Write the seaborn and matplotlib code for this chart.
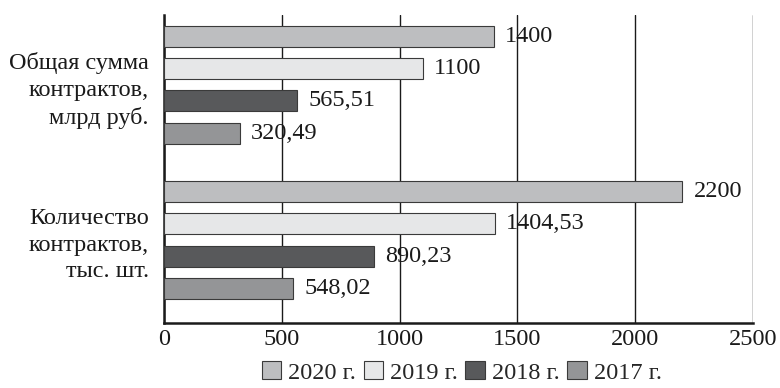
import matplotlib
matplotlib.use("Agg")
import matplotlib.pyplot as plt
import seaborn as sns
import pandas as pd

categories = ["Общая сумма\nконтрактов,\nмлрд руб.", "Количество\nконтрактов,\nтыс. шт."]
years = ["2020 г.", "2019 г.", "2018 г.", "2017 г."]
values_2020 = [1400, 2200]
values_2019 = [1100, 1404.53]
values_2018 = [565.51, 890.23]
values_2017 = [320.49, 548.02]
label_2020 = ["1400", "2200"]
label_2019 = ["1100", "1404,53"]
label_2018 = ["565,51", "890,23"]
label_2017 = ["320,49", "548,02"]
colors = ["#bdbec0", "#e6e7e8", "#58595b", "#939598"]
x_ticks = [0, 500, 1000, 1500, 2000, 2500]

rows = []
for yr, vals in zip(years, [values_2020, values_2019, values_2018, values_2017]):
    for c, v in zip(categories, vals):
        rows.append({"cat": c, "year": yr, "value": v})
df = pd.DataFrame(rows)

sns.set_theme(style="white")
plt.rcParams["font.family"] = ["Liberation Serif", "DejaVu Serif"]

FS = 17.5
fig = plt.figure(figsize=(7.8, 3.88), dpi=100)
ax = fig.add_axes([164/780, 1-323/388, (753-164)/780, (323-15)/388])
sns.barplot(data=df, y="cat", x="value", hue="year", hue_order=years,
            order=categories, palette=colors, orient="h", width=0.83, gap=0.35,
            edgecolor="#3a3a3a", linewidth=0.8, ax=ax, legend=True, zorder=3)

labels = [label_2020, label_2019, label_2018, label_2017]
for cont, labs in zip(ax.containers, labels):
    ax.bar_label(cont, labels=labs, padding=8, fontsize=FS, color="#1a1a1a")

ax.set_xlim(0, 2500)
ax.set_ylim(1.535, -0.45)
ax.set_xticks(x_ticks)
ax.set_xticklabels([str(t) for t in x_ticks], fontsize=FS, color="#1a1a1a")
ax.tick_params(axis="y", labelsize=FS, labelcolor="#1a1a1a", length=0, pad=11)
ax.tick_params(axis="x", length=0, pad=4)
ax.set_xlabel("")
ax.set_ylabel("")
for lab in ax.get_yticklabels():
    lab.set_horizontalalignment("right")
    lab.set_multialignment("right")
    lab.set_linespacing(1.35)
ax.xaxis.grid(True, color="#1a1a1a", linewidth=1.0, zorder=0)
ax.set_axisbelow(True)
for s in ["top", "right"]:
    ax.spines[s].set_visible(False)
for s in ["left", "bottom"]:
    ax.spines[s].set_color("#1a1a1a")
    ax.spines[s].set_linewidth(1.8)

handles, lbls = ax.get_legend_handles_labels()
ax.get_legend().remove()
fig.legend(handles, lbls, loc="lower center", bbox_to_anchor=(0.592, -0.045), ncol=4,
           frameon=False, fontsize=FS, handlelength=0.8, handleheight=0.8,
           handletextpad=0.3, columnspacing=0.3)

fig.savefig("out.png", dpi=100)
